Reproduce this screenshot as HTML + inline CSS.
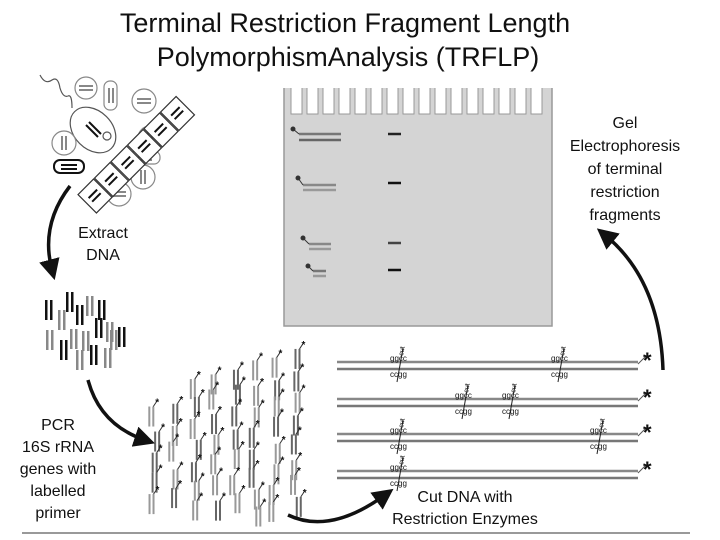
<!DOCTYPE html>
<html><head><meta charset="utf-8"><style>
html,body{margin:0;padding:0;background:#fff;width:720px;height:540px;overflow:hidden}
svg{display:block}
text{font-family:"Liberation Sans",sans-serif;fill:#111}
</style></head><body>
<svg id="s" width="720" height="540" viewBox="0 0 720 540" xmlns="http://www.w3.org/2000/svg">
<defs>
<marker id="ah" markerWidth="6" markerHeight="6" refX="3" refY="3" orient="auto" markerUnits="strokeWidth"><path d="M0,0 L6,3 L0,6 Z" fill="#111"/></marker>
</defs>
<text x="345" y="32" font-size="27" text-anchor="middle">Terminal Restriction Fragment Length</text>
<text x="348" y="66" font-size="27" text-anchor="middle">PolymorphismAnalysis (TRFLP)</text>

<path d="M284,88 V326 H552 V88" fill="#d4d4d4" stroke="#999" stroke-width="1.5"/>
<g id="wells"></g>
<g stroke-width="2.5">
<line x1="299" y1="134" x2="341" y2="134" stroke="#777"/><line x1="299" y1="140" x2="341" y2="140" stroke="#666"/>
<line x1="303" y1="185" x2="336" y2="185" stroke="#888"/><line x1="303" y1="190" x2="336" y2="190" stroke="#999"/>
<line x1="309" y1="244" x2="331" y2="244" stroke="#888"/><line x1="309" y1="249" x2="331" y2="249" stroke="#999"/>
<line x1="313" y1="271" x2="326" y2="271" stroke="#777"/><line x1="313" y1="276" x2="326" y2="276" stroke="#999"/>
<line x1="388" y1="134" x2="401" y2="134" stroke="#222"/>
<line x1="388" y1="183" x2="401" y2="183" stroke="#111"/>
<line x1="388" y1="243" x2="401" y2="243" stroke="#444"/>
<line x1="388" y1="270" x2="401" y2="270" stroke="#111"/>
</g>
<g stroke="#333" stroke-width="1" fill="#333">
<circle cx="293" cy="129" r="2"/><line x1="293" y1="129" x2="299" y2="134"/>
<circle cx="298" cy="178" r="2"/><line x1="298" y1="178" x2="303" y2="185"/>
<circle cx="303" cy="238" r="2"/><line x1="303" y1="238" x2="309" y2="244"/>
<circle cx="308" cy="266" r="2"/><line x1="308" y1="266" x2="313" y2="271"/>
</g>

<g font-size="16" text-anchor="middle">
<text x="625" y="128">Gel</text>
<text x="625" y="151">Electrophoresis</text>
<text x="625" y="174">of terminal</text>
<text x="625" y="197">restriction</text>
<text x="625" y="220">fragments</text>
</g>

<g fill="none" stroke="#555" stroke-width="1.2">
<path d="M40,75 q5,10 12,5 q6,-4 8,8 q3,10 8,8 q4,-2 4,12"/>
<ellipse cx="93" cy="130" rx="19" ry="26" transform="rotate(-45 93 130)"/>
<circle cx="86" cy="88" r="11" stroke="#888"/>
<rect x="104" y="81" width="13" height="29" rx="6" stroke="#888"/>
<circle cx="144" cy="101" r="12" stroke="#888"/>
<circle cx="150" cy="138" r="12" stroke="#888"/>
<rect x="130" y="151" width="30" height="13" rx="6" stroke="#888"/>
<circle cx="143" cy="177" r="12" stroke="#888"/>
<circle cx="119" cy="194" r="12" stroke="#888"/>
<circle cx="64" cy="143" r="12" stroke="#888"/>
<rect x="54" y="160" width="30" height="13" rx="6" stroke="#111" stroke-width="2"/>
<circle cx="107" cy="136" r="4"/>
</g>
<g stroke="#888" stroke-width="2">
<line x1="79" y1="86" x2="93" y2="86"/><line x1="79" y1="90" x2="93" y2="90"/>
<line x1="109" y1="88" x2="109" y2="103"/><line x1="113" y1="88" x2="113" y2="103"/>
<line x1="137" y1="99" x2="151" y2="99"/><line x1="137" y1="103" x2="151" y2="103"/>
<line x1="148" y1="131" x2="148" y2="145"/><line x1="152" y1="131" x2="152" y2="145"/>
<line x1="138" y1="157" x2="152" y2="157"/><line x1="138" y1="160" x2="152" y2="160"/>
<line x1="141" y1="170" x2="141" y2="184"/><line x1="145" y1="170" x2="145" y2="184"/>
<line x1="112" y1="192" x2="126" y2="192"/><line x1="112" y1="196" x2="126" y2="196"/>
<line x1="62" y1="136" x2="62" y2="150"/><line x1="66" y1="136" x2="66" y2="150"/>
</g>
<g stroke="#111" stroke-width="2">
<line x1="61" y1="165" x2="77" y2="165"/><line x1="61" y1="169" x2="77" y2="169"/>
<line x1="86" y1="125" x2="98" y2="137"/><line x1="89" y1="122" x2="101" y2="134"/>
</g>
<g id="chain" fill="#fff" stroke="#333" stroke-width="1.2"></g>

<text x="103" y="238" font-size="16" text-anchor="middle">Extract</text>
<text x="103" y="260" font-size="16" text-anchor="middle">DNA</text>

<g id="scatter"></g>
<g id="pcr"></g>

<g font-size="16" text-anchor="middle">
<text x="58" y="430">PCR</text>
<text x="58" y="452">16S rRNA</text>
<text x="58" y="474">genes with</text>
<text x="58" y="496">labelled</text>
<text x="58" y="518">primer</text>
<text x="465" y="502">Cut DNA with</text>
<text x="465" y="524">Restriction Enzymes</text>
</g>

<g id="dna"></g>

<g fill="none" stroke="#111" stroke-width="3.5">
<path d="M70,186 Q40,225 52,270" marker-end="url(#ah)"/>
<path d="M88,380 Q100,425 145,440" marker-end="url(#ah)"/>
<path d="M288,515 Q330,535 385,495" marker-end="url(#ah)"/>
<path d="M663,370 Q660,280 605,235" marker-end="url(#ah)"/>
</g>

<line x1="22" y1="533" x2="690" y2="533" stroke="#999" stroke-width="2"/>
</svg>
<script>
var NS="http://www.w3.org/2000/svg";
function el(p,t,a){var e=document.createElementNS(NS,t);for(var k in a)e.setAttribute(k,a[k]);p.appendChild(e);return e;}
var w=document.getElementById('wells');
for(var x=291;x<546;x+=16){el(w,'rect',{x:x,y:87,width:11,height:27,fill:'#fff'});
el(w,'path',{d:'M'+x+',88 V114 H'+(x+11)+' V88',fill:'none',stroke:'#999','stroke-width':1});}
var c=document.getElementById('chain');
for(var i=0;i<6;i++){var cx=95+i*16.5,cy=196-i*16.5;
var g=el(c,'g',{transform:'translate('+cx+','+cy+') rotate(-45)'});
el(g,'rect',{x:-11,y:-13,width:22,height:26});
el(g,'line',{x1:-6,y1:-3,x2:6,y2:-3,stroke:'#111','stroke-width':2});
el(g,'line',{x1:-6,y1:2,x2:6,y2:2,stroke:'#111','stroke-width':2});}
var s=document.getElementById('scatter');
var sp=[[45,300,1],[58,310,0],[66,292,1],[76,305,1],[86,296,0],[98,300,1],[95,318,1],[106,322,0],[118,327,1],[46,330,0],[60,340,1],[70,329,0],[82,331,0],[76,350,0],[90,345,1],[104,348,0],[110,330,0]];
sp.forEach(function(p){var col=p[2]?'#111':'#888';
el(s,'rect',{x:p[0],y:p[1],width:2.5,height:20,fill:col});el(s,'rect',{x:p[0]+5,y:p[1],width:2.5,height:20,fill:col});});
var q=document.getElementById('pcr');var seed=11;function r(){seed=(seed*9301+49297)%233280;return seed/233280;}
for(var row=0;row<9;row++){for(var col=0;col<8;col++){
var x=148+col*20+r()*8, y=348+row*21+(7-col)*5+r()*8;
if(y>508)continue;
if(row==0&&col<2)continue;
var gc=r()>0.5?'#666':'#999';
el(q,'rect',{x:x,y:y,width:2,height:20,fill:gc});el(q,'rect',{x:x+4,y:y,width:2,height:20,fill:gc});
el(q,'line',{x1:x+5,y1:y,x2:x+9,y2:y-6,stroke:'#333','stroke-width':1});
el(q,'text',{x:x+7,y:y-1,'font-size':10,'font-weight':'bold',fill:'#333'}).textContent='*';}}
var d=document.getElementById('dna');
var rows=[[362,[400,561]],[399,[465,512]],[434,[400,600]],[471,[400]]];
rows.forEach(function(rw){var y=rw[0];
el(d,'line',{x1:337,y1:y,x2:638,y2:y,stroke:'#888','stroke-width':2.5});
el(d,'line',{x1:337,y1:y+7,x2:638,y2:y+7,stroke:'#777','stroke-width':2.5});
el(d,'line',{x1:638,y1:y+2,x2:646,y2:y-6,stroke:'#555','stroke-width':1});
el(d,'text',{x:643,y:y+6,'font-size':22,'font-weight':'bold',fill:'#333'}).textContent='*';
rw[1].forEach(function(x){
var t=el(d,'text',{x:x-10,y:y-1,'font-size':8,fill:'#555'});t.textContent='ggcc';
var t2=el(d,'text',{x:x-10,y:y+15,'font-size':8,fill:'#555'});t2.textContent='ccgg';
el(d,'line',{x1:x+3,y1:y-14,x2:x-3,y2:y+20,stroke:'#222','stroke-width':1});
var t3=el(d,'text',{x:0,y:0,'font-size':7,fill:'#555',transform:'translate('+(x+3)+','+(y-6)+') rotate(-80)'});t3.textContent='cut';
});});
</script>
</body></html>
